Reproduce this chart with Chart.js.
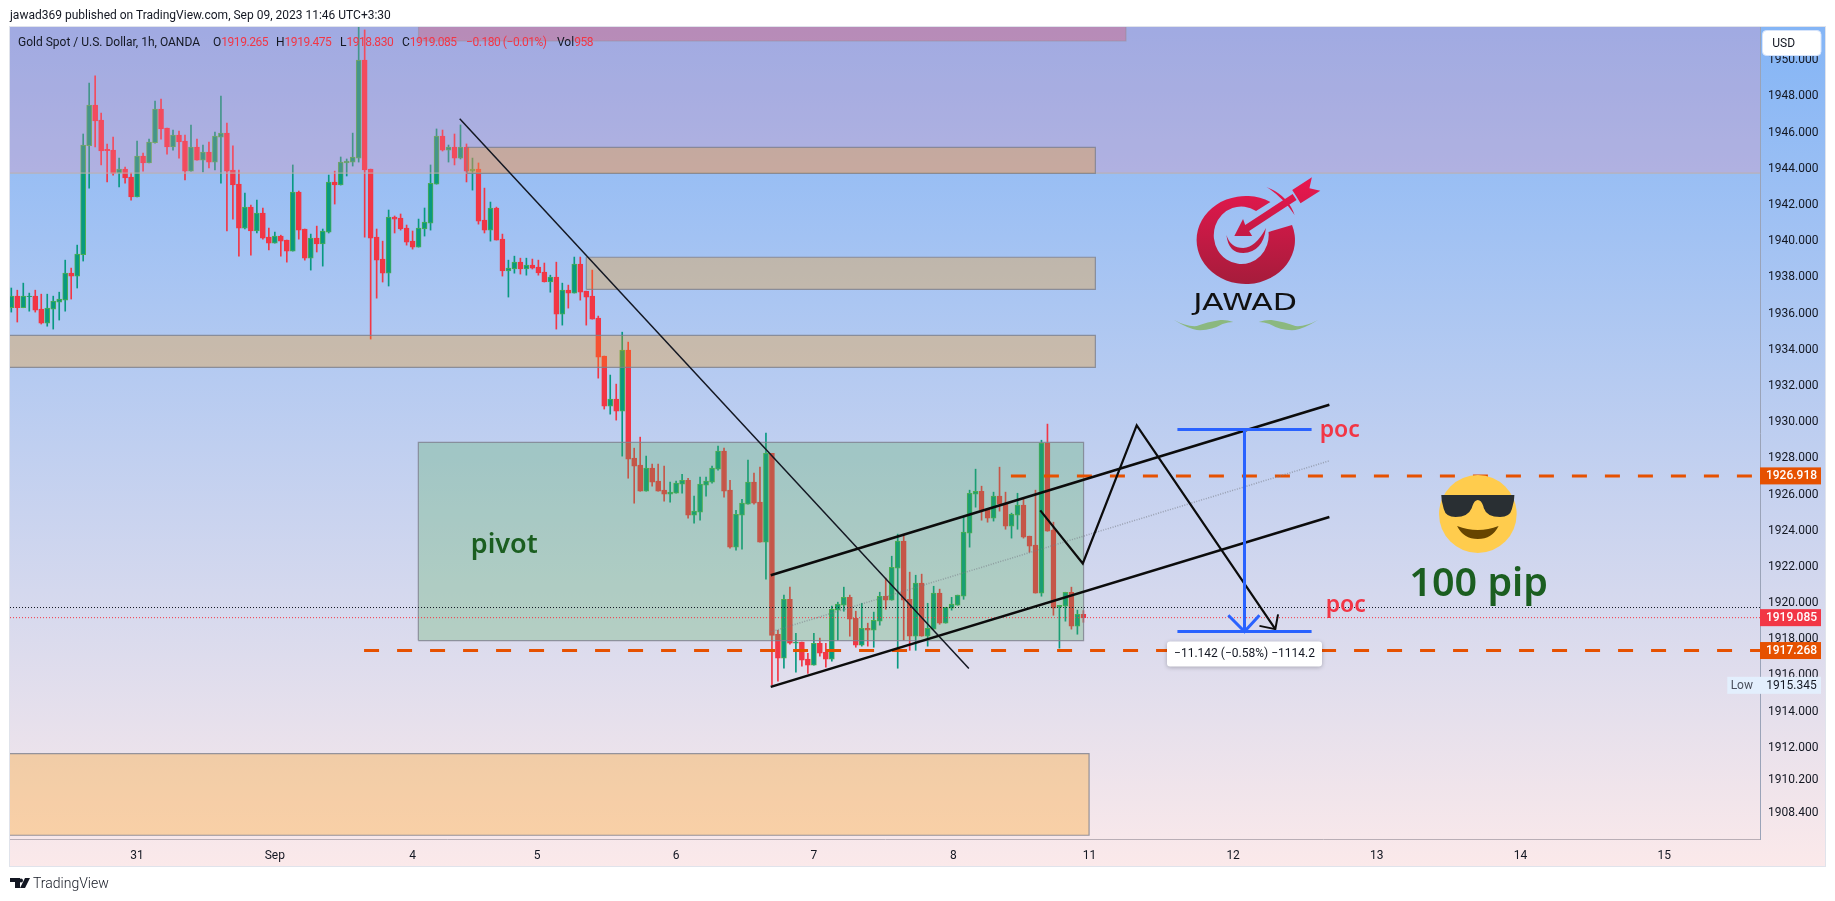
<!DOCTYPE html>
<html><head><meta charset="utf-8">
<script src="https://cdn.jsdelivr.net/npm/chart.js@4"></script>
<style>
html,body{margin:0;padding:0;background:#fff;width:1835px;height:901px;overflow:hidden}
#wrap{position:relative;width:1835px;height:901px}
canvas{position:absolute;left:0;top:0}
.t{position:absolute;font-family:Roboto,sans-serif;color:#131722;white-space:pre}
.l{top:34px;font-size:12px;line-height:16px}
.r{color:#f23645;letter-spacing:-.45px}
svg{position:absolute;left:0;top:0;pointer-events:none}
</style></head><body><div id="wrap">
<canvas id="c" width="1835" height="901"></canvas>
<svg width="1835" height="901" viewBox="0 0 1835 901">
<defs><linearGradient id="lg" gradientUnits="userSpaceOnUse" x1="0" y1="177" x2="0" y2="285"><stop offset="0" stop-color="#ea174f"/><stop offset="1" stop-color="#a51c3b"/></linearGradient></defs>
<g transform="translate(1100 0) scale(.98781 1) translate(-1100 0)">
<g fill="url(#lg)">
<path d="M1272.5 201.9A49.8 44 0 1 0 1294.4 225L1270.6 232A27.8 28.8 0 1 1 1258 211Z"/>
<path d="M1228 235Q1232 248 1245 248Q1258 247 1268 228Q1265 252 1245 253Q1230 253 1228 235Z"/>
<path d="M1268.5 187Q1290 195 1297 215Q1285 197 1268.5 187Z"/>
<path d="M1236 236L1244.8 219L1247 225L1295 194L1299 200L1251 231L1254 236Z"/>
<path d="M1294.6 190L1314.5 177.3L1312 188.3L1323 190.7L1303 203.3L1299 196.7Z"/>
</g>
<text x="1247" y="310" font-family="DejaVu Sans" font-size="23" fill="#111" text-anchor="middle" textLength="105" lengthAdjust="spacingAndGlyphs">JAWAD</text>
<path d="M1175 320Q1188 328 1198 330Q1212 331 1224 324Q1230 322 1235 322Q1228 319.5 1222 320Q1208 322 1198 326Q1188 327 1175 320Z M1320.7 320Q1307.7 328 1297.7 330Q1283.7 331 1271.7 324Q1265.7 322 1260.7 322Q1267.7 319.5 1273.7 320Q1287.7 322 1297.7 326Q1307.7 327 1320.7 320Z" fill="#8bb87f"/>
<ellipse cx="1482.5" cy="514" rx="39.3" ry="39" fill="#ffcc4d"/>
<path d="M1445.5 495L1519.5 495L1519 501L1517 509Q1515 517 1505 517Q1490 517 1488 506Q1486 500 1482.5 500Q1479 500 1477 506Q1474 517 1460 517Q1450 517 1448 509L1446 501Z" fill="#292f33"/>
<path d="M1461.5 526Q1482.5 534 1503.5 526Q1497 539 1482.5 539Q1468 539 1461.5 526Z" fill="#664500"/>
</g>
<path d="M10 878H20V888H15V882H10Z M21 878.5a2 2 0 1 1 0 4a2 2 0 1 1 0-4Z M25 878H30L25 888H20Z" fill="#131722"/>
</svg>
<div class="t" style="left:10px;top:7px;font-size:12px;line-height:16px">jawad369 published on TradingView.com, Sep 09, 2023 11:46 UTC+3:30</div>
<div class="t l" style="left:18px">Gold Spot / U.S. Dollar, 1h, OANDA</div>
<div class="t l" style="left:213px">O<span class="r">1919.265</span></div>
<div class="t l" style="left:276px">H<span class="r">1919.475</span></div>
<div class="t l" style="left:340px">L<span class="r">1918.830</span></div>
<div class="t l" style="left:402px">C<span class="r">1919.085</span></div>
<div class="t l r" style="left:466px">−0.180 (−0.01%)</div>
<div class="t l" style="left:557px">Vol<span class="r">958</span></div>
<div class="t" style="left:33px;top:875px;font-size:14px;line-height:16px;font-weight:300">TradingView</div>
</div>
<script>
const opens=[1936.21,1936.85,1936.21,1936.82,1936.85,1936.13,1935.36,1936.13,1936.52,1936.63,1938.12,1937.96,1939.14,1945.16,1947.41,1946.58,1944.96,1944.92,1943.65,1943.87,1943.43,1942.33,1944.59,1944.21,1945.33,1947.19,1946.14,1945.09,1945.75,1945.42,1943.76,1945.09,1944.37,1944.81,1944.26,1945.64,1945.86,1943.82,1943.04,1940.61,1941.77,1940.45,1941.44,1940.11,1939.78,1940.17,1939.95,1939.34,1942.60,1940.56,1938.95,1940.06,1939.73,1940.39,1943.16,1942.99,1944.21,1944.26,1944.48,1949.90,1943.87,1940.11,1938.90,1938.12,1941.22,1941.17,1940.61,1939.89,1939.56,1940.56,1940.89,1943.04,1945.70,1944.92,1945.09,1944.48,1945.09,1943.76,1943.87,1941.05,1940.50,1941.72,1940.00,1938.24,1938.35,1938.73,1938.35,1938.57,1938.46,1938.18,1937.63,1937.90,1935.86,1937.19,1937.02,1938.62,1937.13,1936.85,1935.64,1933.54,1930.77,1931.16,1930.50,1933.87,1927.90,1927.51,1926.07,1927.35,1926.63,1926.13,1925.91,1925.96,1926.46,1926.68,1924.75,1924.91,1926.41,1926.57,1927.29,1928.29,1926.13,1922.98,1924.75,1925.36,1926.57,1925.47,1923.25,1928.17,1918.17,1916.84,1920.10,1917.67,1917.73,1916.79,1916.46,1917.67,1917.17,1916.79,1919.50,1919.77,1920.21,1919.05,1917.56,1918.50,1918.39,1918.89,1920.27,1920.05,1921.82,1923.31,1920.10,1918.06,1920.99,1918.06,1918.45,1920.44,1918.78,1919.61,1919.77,1920.27,1923.75,1925.91,1926.07,1925.08,1924.58,1925.80,1925.41,1924.14,1924.75,1925.30,1923.59,1923.09,1920.44,1928.73,1923.92,1919.66,1919.72,1920.49,1918.61,1919.265];
const highs=[1937.30,1937.18,1937.57,1937.02,1937.18,1936.96,1936.96,1936.85,1937.07,1938.84,1938.40,1939.67,1945.81,1948.63,1949.02,1946.97,1945.26,1945.64,1944.48,1943.98,1943.65,1945.42,1944.76,1945.53,1947.63,1947.74,1946.14,1946.03,1945.97,1945.75,1946.31,1945.53,1945.20,1945.37,1945.92,1947.91,1946.42,1945.15,1943.82,1942.55,1941.88,1942.16,1941.72,1940.61,1940.39,1940.22,1939.95,1944.10,1942.66,1940.56,1940.28,1940.72,1940.56,1943.54,1943.76,1944.54,1944.43,1945.86,1951.80,1951.56,1943.87,1940.56,1939.89,1941.61,1941.28,1941.39,1940.78,1940.45,1941.11,1941.72,1944.10,1946.09,1946.03,1945.20,1945.81,1946.31,1945.26,1944.48,1944.21,1942.82,1942.05,1941.77,1940.28,1938.84,1939.06,1938.95,1938.95,1938.90,1938.84,1938.68,1938.01,1938.73,1937.57,1937.46,1939.01,1939.01,1937.13,1938.29,1935.75,1933.54,1932.49,1931.99,1934.86,1934.31,1928.45,1929.06,1928.01,1927.57,1927.57,1927.46,1926.57,1926.63,1927.01,1926.79,1925.80,1926.85,1926.85,1927.46,1928.56,1928.45,1926.68,1925.02,1925.63,1927.79,1927.07,1927.40,1929.28,1928.17,1918.39,1920.33,1920.77,1918.22,1917.73,1917.12,1918.22,1917.95,1917.67,1919.72,1919.94,1920.77,1920.33,1919.44,1919.88,1918.78,1919.39,1920.49,1921.27,1922.48,1923.70,1923.64,1921.60,1921.43,1921.49,1919.88,1920.82,1920.66,1919.66,1920.21,1920.33,1924.64,1926.13,1927.29,1926.35,1925.08,1926.02,1927.40,1926.02,1924.86,1925.96,1925.63,1923.59,1926.13,1928.89,1929.78,1924.36,1919.77,1920.49,1920.77,1919.50,1919.475];
const lows=[1935.97,1935.42,1936.21,1936.02,1935.97,1935.31,1935.19,1935.03,1935.53,1936.02,1936.69,1937.30,1938.79,1942.82,1945.09,1944.10,1943.16,1943.54,1942.88,1943.10,1942.16,1942.33,1943.76,1944.21,1945.31,1945.53,1944.70,1944.92,1944.48,1943.27,1943.76,1944.37,1943.71,1943.93,1943.82,1943.10,1940.45,1941.11,1939.06,1940.56,1939.12,1940.34,1940.00,1939.40,1939.78,1939.06,1938.73,1939.34,1940.00,1938.84,1938.29,1939.29,1938.51,1940.34,1941.94,1942.99,1943.49,1944.04,1944.26,1940.11,1934.48,1936.74,1937.63,1937.41,1940.34,1940.50,1939.67,1939.45,1939.56,1940.17,1940.50,1943.04,1944.87,1944.26,1944.10,1944.43,1943.16,1942.71,1940.83,1940.34,1939.89,1939.95,1937.96,1936.80,1938.12,1938.07,1938.01,1938.35,1938.01,1937.63,1937.07,1935.03,1935.25,1936.19,1937.02,1936.63,1935.25,1935.58,1932.32,1930.61,1930.33,1930.00,1928.01,1926.79,1925.41,1926.07,1926.07,1926.35,1926.07,1925.52,1925.47,1925.96,1925.96,1924.58,1924.31,1924.47,1925.80,1926.52,1927.24,1925.74,1922.92,1922.81,1922.87,1925.36,1925.36,1923.25,1921.21,1915.35,1915.57,1916.29,1917.62,1916.07,1916.40,1916.01,1916.46,1916.95,1916.35,1916.68,1917.84,1919.44,1918.06,1917.45,1917.51,1917.51,1917.45,1918.67,1919.55,1920.05,1916.29,1917.84,1917.28,1917.28,1918.06,1917.51,1918.45,1918.72,1918.78,1919.50,1919.77,1920.10,1922.98,1925.19,1924.47,1924.36,1924.42,1924.97,1923.97,1923.48,1923.97,1923.48,1922.70,1920.44,1920.27,1923.86,1919.22,1917.40,1918.89,1918.45,1918.17,1918.83];
const closes=[1936.85,1936.21,1936.85,1936.85,1936.08,1935.36,1936.19,1936.58,1936.69,1938.12,1937.96,1939.17,1945.20,1947.41,1946.53,1944.87,1944.89,1943.63,1943.87,1943.38,1942.33,1944.59,1944.21,1945.37,1947.19,1946.09,1945.09,1945.75,1945.37,1943.76,1945.09,1944.37,1944.81,1944.26,1945.70,1945.86,1943.76,1942.99,1940.61,1941.77,1940.45,1941.44,1940.06,1939.78,1940.17,1939.89,1939.34,1942.60,1940.50,1938.95,1940.06,1939.73,1940.45,1943.16,1942.99,1944.26,1944.32,1944.54,1949.90,1943.82,1940.06,1938.84,1938.12,1941.22,1941.11,1940.56,1939.84,1939.56,1940.61,1940.94,1943.08,1945.70,1944.92,1945.09,1944.48,1945.09,1943.76,1943.87,1941.00,1940.50,1941.72,1939.95,1938.24,1938.40,1938.73,1938.35,1938.57,1938.40,1938.13,1937.63,1937.90,1935.86,1937.19,1937.02,1938.62,1937.07,1936.80,1935.58,1933.48,1930.77,1931.16,1930.50,1933.87,1927.84,1927.46,1926.07,1927.35,1926.57,1926.07,1925.91,1926.02,1926.52,1926.68,1924.75,1924.97,1926.46,1926.63,1927.35,1928.29,1926.07,1922.98,1924.80,1925.41,1926.57,1925.41,1923.25,1928.17,1918.11,1916.84,1920.10,1917.67,1917.73,1916.73,1916.46,1917.67,1917.12,1916.79,1919.55,1919.83,1920.21,1919.00,1917.56,1918.50,1918.39,1918.94,1920.27,1920.05,1921.87,1923.31,1920.05,1918.06,1920.99,1918.06,1918.50,1920.44,1918.78,1919.66,1919.83,1920.33,1923.81,1925.96,1926.07,1925.02,1924.58,1925.80,1925.36,1924.14,1924.80,1925.30,1923.53,1923.03,1920.44,1928.73,1923.86,1919.61,1919.77,1920.49,1918.61,1919.27,1919.085];
const priceTicks=[1950,1948,1946,1944,1942,1940,1938,1936,1934,1932,1930,1928,1926,1924,1922,1920,1918,1916,1914,1912,1910.2,1908.4];
const timeTickPos=[21,44,67,87.8,111,134,157.3,180,204,228,252,276];
const timeTickLabels=['31','Sep','4','5','6','7','8','11','12','13','14','15'];
const lastPrices=[['1926.918','#e65100',1926.918],['1919.085','#f23645',1919.085],['1917.268','#e65100',1917.268]];
const lowPrice=1915.345;
const xMin=-0.217,xMax=291.97,yMin=1906.854,yMax=1951.723;
const dashedLevels=[[1926.918,166.9],[1917.268,58.9]];
const dottedLevels=[[1919.645,'#131722'],[1919.085,'#f23645']];
const zoneEdge='rgba(125,128,140,.8)';
const zones=[
 [xMin-1,xMax+1,1943.65,1953,'rgba(246,138,166,.25)','rgba(190,175,170,.8)'],
 [68,186.1,1950.95,1953,'rgba(250,47,58,.25)','rgba(150,140,150,.5)'],
 [76.1,181,1943.64,1945.07,'rgba(255,152,0,.29)',zoneEdge],
 [96,181,1937.22,1939.0,'rgba(255,152,0,.29)',zoneEdge],
 [xMin-1,181,1932.91,1934.68,'rgba(255,152,0,.29)',zoneEdge],
 [67.96,179.03,1917.82,1928.77,'rgba(76,175,80,.27)',zoneEdge],
 [xMin-1,179.95,1907.06,1911.57,'rgba(255,152,0,.29)',zoneEdge]];
const trendLine=[[74.87,1946.65],[159.88,1916.27]];
const channelUpper=[[126.8,1921.43],[220.07,1930.85]];
const channelLower=[[126.8,1915.26],[220.07,1924.65]];
const channelMid=[[126.8,1918.30],[220.07,1927.75]];
const zigzag=[[171.8,1925.01],[178.9,1922.08],[187.9,1929.71],[211.05,1918.45]];
const zigzagHead=[[208.4,1918.63],[211.05,1918.45],[211.5,1919.27]];
const rulerTop=[[194.7,1929.48],[217.1,1929.48]];
const rulerBottom=[[194.7,1918.32],[217.1,1918.32]];
const rulerStem=[[205.9,1929.48],[205.9,1918.32]];
const rulerHead=[[203.2,1919.22],[205.9,1918.32],[208.4,1919.22]];
const rulerLabel='−11.142 (−0.58%) −1114.2';
const notes=[['poc',221.8,1929.45,'600 23px "Noto Sans"','#f23645'],['poc',222.8,1919.77,'600 23px "Noto Sans"','#f23645'],['100 pip',245,1920.93,'600 39.5px "Noto Sans"','#1b5e20'],['pivot',82.3,1923.09,'600 27px "Noto Sans"','#1b5e20']];

const idx=opens.map((_,i)=>i);
const up=i=>closes[i]>=opens[i];
const pts=a=>a.map(p=>({x:p[0],y:p[1]}));
function lineDs(points,color,width,order,extra){return Object.assign({type:'line',data:pts(points),borderColor:color,borderWidth:width,pointRadius:0,tension:0,fill:false,order,borderCapStyle:'butt'},extra||{});}
const ds=[];
ds.push({type:'bar',data:idx.map(i=>({x:i,y:[lows[i],highs[i]]})),barThickness:1,backgroundColor:idx.map(i=>up(i)?'#089981':'#f23645'),borderWidth:0,grouped:false,order:50});
ds.push({type:'bar',data:idx.map(i=>({x:i,y:[opens[i],closes[i]]})),barThickness:5,backgroundColor:idx.map(i=>up(i)?'#089981':'#f23645'),borderColor:idx.map(i=>up(i)?'#4caf50':'#f23645'),borderWidth:1,borderSkipped:false,grouped:false,order:49});
zones.forEach((z,k)=>ds.push(lineDs([[z[0],z[2]],[z[1],z[2]],[z[1],z[3]],[z[0],z[3]],[z[0],z[2]]],z[5],1.2,40-k,{fill:'shape',backgroundColor:z[4]})));
dottedLevels.forEach(l=>ds.push(lineDs([[xMin,l[0]],[xMax,l[0]]],l[1],1,20,{borderDash:[1,2]})));
dashedLevels.forEach(l=>ds.push(lineDs([[l[1],l[0]],[xMax,l[0]]],'#e65100',3,19,{borderDash:[15,18]})));
ds.push(lineDs(channelMid,'rgba(120,125,135,.6)',1.5,18,{borderDash:[1,1.5]}));
ds.push(lineDs(trendLine,'#131722',1.5,17));
ds.push(lineDs(channelUpper,'#0c0c0c',2.6,16));
ds.push(lineDs(channelLower,'#0c0c0c',2.6,15));
ds.push(lineDs(zigzag,'#0c0c0c',2.2,14));
ds.push(lineDs(zigzagHead,'#0c0c0c',2,13));
[rulerTop,rulerBottom,rulerStem,rulerHead].forEach(r=>ds.push(lineDs(r,'#2962ff',3,12)));

const grad={id:'grad',beforeDraw(ch){const c=ch.ctx;c.save();const g=c.createLinearGradient(0,27,0,866);g.addColorStop(0,'#84b5f6');g.addColorStop(1,'#fbe9ea');c.fillStyle=g;c.fillRect(10,27,1815,839);c.strokeStyle='#e0e3eb';c.lineWidth=1;c.strokeRect(9.5,26.5,1816,840);c.restore();}};
const over={id:'over',afterDraw(ch){const c=ch.ctx,X=ch.scales.x,Y=ch.scales.y;c.save();
 c.textBaseline='middle';c.textAlign='center';
 notes.forEach(n=>{c.font=n[3];c.fillStyle=n[4];c.fillText(n[0],X.getPixelForValue(n[1]),Y.getPixelForValue(n[2]));});
 const mx=X.getPixelForValue(rulerStem[0][0]);const my=Y.getPixelForValue(rulerBottom[0][1])+22;
 c.save();c.shadowColor='rgba(0,0,0,.25)';c.shadowBlur=4;c.shadowOffsetY=1;c.fillStyle='#fff';c.beginPath();c.roundRect(mx-77.5,my-12,155,25,3);c.fill();c.restore();
 c.font='12px Roboto';c.fillStyle='#131722';c.fillText(rulerLabel,mx,my+1);
 c.font='500 12px Roboto';
 lastPrices.forEach(p=>{const y=Y.getPixelForValue(p[2]);c.fillStyle=p[1];c.fillRect(1760,y-8.5,61,17);c.fillStyle='#fff';c.fillText(p[0],1791.5,y+.5);});
 const ly=Y.getPixelForValue(lowPrice);c.fillStyle='#e3effd';c.fillRect(1727.3,ly-8.5,93.7,17);
 c.font='12px Roboto';c.fillStyle='#4a4f5c';c.fillText('Low',1741.8,ly+.5);c.fillStyle='#131722';c.fillText(lowPrice.toFixed(3),1791.5,ly+.5);
 c.fillStyle='#fff';c.strokeStyle='#d6e4fb';c.lineWidth=1;c.beginPath();c.roundRect(1762.5,30.5,58.5,25,4);c.fill();c.stroke();
 c.textAlign='left';c.font='12px Roboto';c.fillStyle='#131722';c.fillText('USD',1772.3,43.5);
 c.restore();}};

Chart.defaults.font.family='Roboto';
new Chart(document.getElementById('c'),{type:'bar',data:{datasets:ds},plugins:[grad,over],options:{
 responsive:false,animation:false,devicePixelRatio:1,events:[],
 layout:{padding:{left:10,top:27,right:10,bottom:35}},
 plugins:{legend:{display:false},tooltip:{enabled:false}},
 scales:{
  x:{type:'linear',min:xMin,max:xMax,offset:false,grid:{display:false},border:{color:'#b9aeb6',width:1},
   afterBuildTicks(s){s.ticks=timeTickPos.map(v=>({value:v}));},
   afterFit(s){s.height=27;},
   ticks:{autoSkip:false,maxRotation:0,padding:2,color:'#131722',font:{size:12},callback(v){const i=timeTickPos.indexOf(v);return i>=0?timeTickLabels[i]:'';}}},
  y:{type:'linear',position:'right',min:yMin,max:yMax,grid:{display:false},border:{color:'#9aa3b8',width:1},
   afterBuildTicks(s){s.ticks=priceTicks.map(v=>({value:v}));},
   afterFit(s){s.width=65;},
   ticks:{autoSkip:false,crossAlign:'center',padding:0,labelOffset:2,color:'#131722',font:{size:12},callback(v){return Number(v).toFixed(3);}}}
 }}});
</script></body></html>
